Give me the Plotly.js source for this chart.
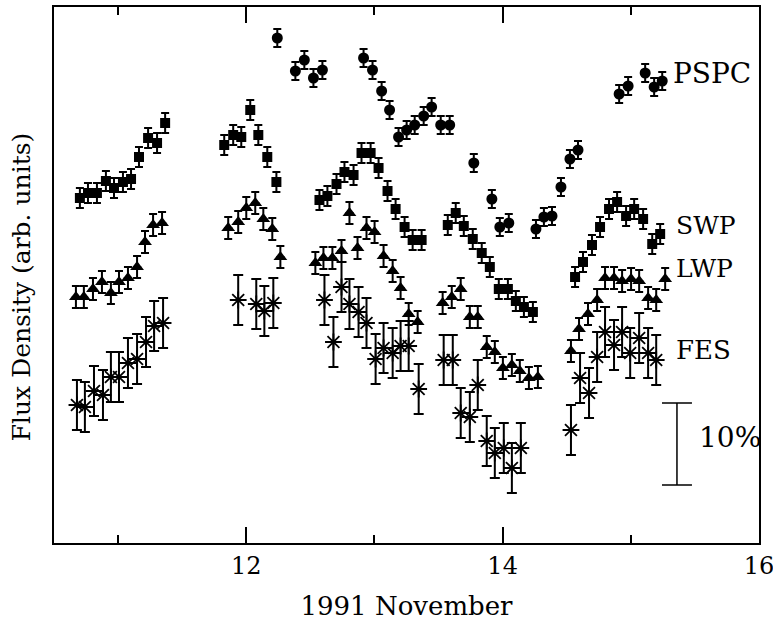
<!DOCTYPE html>
<html>
<head>
<meta charset="utf-8">
<script src="https://cdn.plot.ly/plotly-3.0.1.min.js"></script>
<style>html,body{margin:0;padding:0;background:#fff;}#chart{width:773px;height:624px;}</style>
</head>
<body>
<div id="chart"></div>
<script>
// Day of 1991 November
const pspcX = [12.242,12.383,12.453,12.524,12.594,12.915,12.985,13.056,13.118,13.188,13.251,13.314,13.384,13.446,13.517,13.587,13.775,13.916,13.978,14.048,14.260,14.322,14.385,14.455,14.525,14.588,14.909,14.979,15.112,15.182,15.245];
const pspcY = [505,472,483,465,473,485,473,452,433,406,413,418,427,436,418,418,380,344,316,320,314,326,327,356,384,393,449,457,470,456,462];

const swpX = [10.702,10.765,10.835,10.905,10.968,11.038,11.101,11.163,11.234,11.304,11.367,
  11.828,11.898,11.961,12.031,12.094,12.164,12.235,
  12.571,12.633,12.704,12.766,12.837,12.899,12.970,13.032,13.102,13.165,13.235,13.298,13.368,
  13.572,13.634,13.697,13.767,13.837,13.900,13.970,14.041,14.103,14.166,14.236,
  14.565,14.627,14.697,14.760,14.830,14.893,14.963,15.026,15.096,15.167,15.229];
const swpY = [345,350,350,362,355,361,364,386,405,400,420,
  398,408,406,433,408,386,361,
  343,347,359,371,368,390,390,375,352,334,316,303,303,
  318,330,317,304,290,276,254,254,242,236,231,
  266,281,298,316,334,341,327,334,324,299,309];

const lwpX = [10.671,10.733,10.804,10.874,10.944,11.007,11.077,11.148,11.210,11.273,11.343,
  11.859,11.937,12.000,12.070,12.133,12.203,12.266,
  12.539,12.602,12.672,12.743,12.805,12.868,12.938,13.001,13.071,13.142,13.204,13.267,13.337,
  13.532,13.603,13.673,13.744,13.806,13.876,13.939,14.002,14.072,14.134,14.205,14.275,
  14.533,14.596,14.666,14.737,14.799,14.869,14.932,15.002,15.065,15.135,15.198,15.268];
const lwpY = [246,246,254,261,250,261,265,276,301,318,320,
  315,321,335,340,324,314,286,
  280,285,285,292,330,295,315,311,287,272,255,229,221,
  240,246,254,226,226,196,191,175,178,172,165,166,
  192,214,229,243,265,265,262,264,262,245,243,264];

const fesX = [10.679,10.741,10.812,10.882,10.944,11.007,11.077,11.148,11.218,11.281,11.351,
  11.937,12.078,12.141,12.211,
  12.610,12.680,12.743,12.805,12.876,12.938,13.009,13.071,13.142,13.204,13.267,13.345,
  13.540,13.611,13.673,13.744,13.806,13.876,13.939,14.009,14.072,14.142,
  14.533,14.604,14.674,14.737,14.799,14.869,14.932,14.995,15.065,15.135,15.198];
const fesY = [138,136,152,148,166,166,180,184,201,217,220,
  243,239,232,240,
  243,201,256,239,231,220,184,195,190,197,197,154,
  183,183,130,126,158,102,90,95,75,95,
  113,165,150,186,211,198,211,190,205,190,183];

// one-sigma errors (flux units) and half bin width (days)
const pspcErr = 9, swpErr = 10, lwpErr = 11, fesErr = 25;
const binHalf = 0.033;

// 10% scale bar
const scaleX = [15.36];
const scaleY = [99];
const scaleHalf = 41;

const seriesLabels = ['PSPC','SWP','LWP','FES'];
const labelY = [470, 318, 275, 193];
const labelX = [15.31, 15.335, 15.34, 15.34];
const labelSize = [28, 25, 25, 26];

const xTickVals = [12,14,16];
const xTickText = ['12','14','16'];
const xMinorVals = [11,13,15];

const serif = 'DejaVu Serif, Liberation Serif, serif';

function series(x, y, symbol, size, err, capw) {
  return {
    x: x, y: y, type: 'scatter', mode: 'markers', showlegend: false, hoverinfo: 'skip',
    marker: {symbol: symbol, size: size, color: '#000', line: {color: '#000', width: symbol.indexOf('open') >= 0 ? 1.8 : 0}},
    error_y: {type: 'constant', value: err, color: '#000', thickness: 2, width: capw},
    error_x: {type: 'constant', value: binHalf, color: '#000', thickness: 1.4, width: 0}
  };
}

const traces = [
  series(pspcX, pspcY, 'circle', 11, pspcErr, 4),
  series(swpX, swpY, 'square', 10, swpErr, 4),
  series(lwpX, lwpY, 'triangle-up', 12, lwpErr, 4),
  series(fesX, fesY, 'asterisk-open', 14, fesErr, 5),
  {
    x: scaleX, y: scaleY, type: 'scatter', mode: 'markers', showlegend: false, hoverinfo: 'skip',
    marker: {size: 1, color: 'rgba(0,0,0,0)'},
    error_y: {type: 'constant', value: scaleHalf, color: '#000', thickness: 1.5, width: 15}
  }
];

const annotations = seriesLabels.map((t, i) => ({
  x: labelX[i], y: labelY[i], xref: 'x', yref: 'y', text: t, showarrow: false,
  xanchor: 'left', yanchor: 'middle', font: {family: serif, size: labelSize[i], color: '#000'}
}));
annotations.push({
  x: 15.52, y: 106, xref: 'x', yref: 'y', text: '10%', showarrow: false,
  xanchor: 'left', yanchor: 'middle', font: {family: serif, size: 28, color: '#000'}
});
annotations.push({
  x: -0.046, y: 0.478, xref: 'paper', yref: 'paper', text: 'Flux Density (arb. units)',
  textangle: -90, showarrow: false, xanchor: 'center', yanchor: 'middle',
  font: {family: serif, size: 25, color: '#000'}
});

const layout = {
  width: 773, height: 624,
  margin: {l: 54, r: 14, t: 7, b: 81},
  paper_bgcolor: '#fff', plot_bgcolor: '#fff',
  showlegend: false,
  xaxis: {
    range: [10.5, 16], tickmode: 'array', tickvals: xTickVals, ticktext: xTickText,
    ticks: 'inside', ticklen: 16, tickwidth: 2, tickcolor: '#000',
    showline: true, linewidth: 2, linecolor: '#000', mirror: 'ticks',
    showgrid: false, zeroline: false, ticklabeloverflow: 'allow',
    minor: {tickmode: 'array', tickvals: xMinorVals, ticks: 'inside', ticklen: 8, tickwidth: 2, tickcolor: '#000', showgrid: false},
    tickfont: {family: serif, size: 24, color: '#000'},
    title: {text: '1991 November', font: {family: serif, size: 26, color: '#000'}, standoff: 18}
  },
  yaxis: {
    range: [0, 536], showticklabels: false, ticks: '',
    showline: true, linewidth: 2, linecolor: '#000', mirror: true,
    showgrid: false, zeroline: false
  },
  annotations: annotations
};

Plotly.newPlot('chart', traces, layout, {staticPlot: true, displayModeBar: false});
</script>
</body>
</html>
